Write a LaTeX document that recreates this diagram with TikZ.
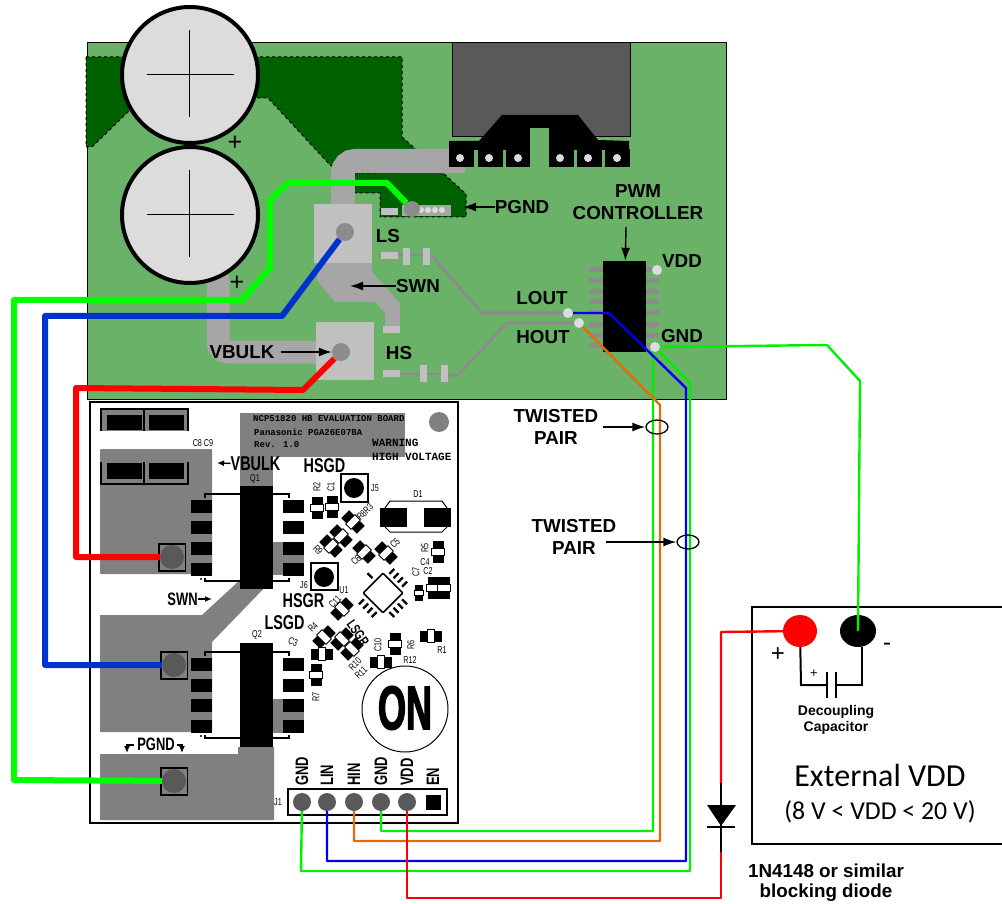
\documentclass[tikz,border=0pt]{standalone}
\usepackage{fontspec}
\usepackage{tikz}
\usetikzlibrary{shapes.geometric, arrows.meta}
\setmainfont{Liberation Sans}
\newfontfamily\silkfont[FakeStretch=0.72]{Liberation Sans}
\newfontfamily\logofont[FakeStretch=0.58, FakeBold=2]{Liberation Sans}
\newfontfamily\silkmono{Liberation Mono}
\newfontfamily\calfont{Carlito}
\definecolor{boardgreen}{HTML}{69B267}
\definecolor{copper}{HTML}{006100}
\definecolor{trace}{HTML}{A6A6A6}
\definecolor{padgray}{HTML}{C0C0C0}
\definecolor{silkgray}{HTML}{808080}
\definecolor{viagray}{HTML}{8C8C8C}
\definecolor{darkgray}{HTML}{595959}
\definecolor{dotgray}{HTML}{DCDCDC}
\definecolor{wirered}{HTML}{FF0000}
\definecolor{wireblue}{HTML}{0000F0}
\definecolor{cableblue}{HTML}{0033CC}
\definecolor{cablegreen}{HTML}{00FF00}
\definecolor{wiregreen}{HTML}{00F000}
\definecolor{wireorange}{HTML}{E36C0A}
\def\Fr(#1,#2,#3,#4)#5{\fill[#5] (#1,#2) rectangle (#3,#4);}
\tikzset{
	lbl/.style={font=\bfseries\fontsize{18.8}{18.8}\selectfont, inner sep=0pt},
	silk/.style={font=\silkfont\fontsize{10}{10}\selectfont, inner sep=0pt},
	silkbig/.style={font=\silkfont\bfseries\fontsize{20}{20}\selectfont, inner sep=0pt},
	silkmid/.style={font=\silkmono\bfseries\fontsize{9}{9}\selectfont, inner sep=0pt},
	via/.style={circle, fill=viagray, minimum size=18pt, inner sep=0pt},
	dot/.style={circle, fill=dotgray, minimum size=10pt, inner sep=0pt},
	pad/.style={circle, fill=darkgray, minimum size=24pt, inner sep=0pt},
	pin/.style={circle, fill=darkgray, minimum size=18pt, inner sep=0pt},
	cable/.style={line width=6pt, line join=round},
	wire/.style={line width=2.4pt, line join=round},
	arr/.style={-{Latex[length=13pt, width=9pt]}, line width=1.4pt},
	arrsmall/.style={-{Latex[length=7pt, width=6pt]}, line width=1.4pt},
	smd/.pic={
		\fill[black] (-5.5,-11) rectangle (5.5,-3.5);
		\fill[black] (-5.5,3.5) rectangle (5.5,11);
		\draw[line width=.8pt, fill=white] (-6.5,-3.8) rectangle (6.5,3.8);
	},
}
\begin{document}
\begin{tikzpicture}[x=1pt, y=-1pt]
	\useasboundingbox (0,0) rectangle (1002,904);

	\draw[fill=boardgreen, line width=1pt] (87,43) rectangle (726,399);
	\draw[fill=copper, dashed, line width=1pt] (86,57) -- (402,57) -- (402,137) -- (420,153) -- (340,170) -- (330,165) -- (268,98) -- (258,98) -- (190,70) -- (130,110) -- (92,147) -- (86,147) -- cycle;
	\draw[fill=copper, dashed, line width=1pt] (355,173) -- (442,172) -- (466,194) -- (466,217) -- (380,217) -- (380,193) -- (355,193) -- cycle;

	\draw[trace, line width=24pt, rounded corners=12pt] (343,210) -- (343,161) -- (465,161);
	\draw[trace, line width=23pt, rounded corners=10pt] (218,275) -- (218,352) -- (325,352);
	\fill[trace] (317,263) -- (372,263) -- (372,272) -- (400,303) -- (400,326) -- (385,326) -- (385,313) -- (375,302) -- (335,302) -- (317,280) -- cycle;
	\Fr(314,204,372,263){padgray}
	\Fr(316,322,374,380){padgray}
	\Fr(383,326,400,333){padgray}

	\draw[viagray, line width=2.5pt] (398,255) -- (423,255);
	\draw[viagray, line width=2.5pt] (399,374) -- (441,374);
	\draw[viagray, line width=3pt, line join=round] (431,255) -- (482,313) -- (568,313);
	\draw[viagray, line width=3pt, line join=round] (448,375) -- (458,375) -- (507,323) -- (580,323);
	\foreach \x/\y in {381/252, 383/370} {\Fr(\x,\y,\x+17,\y+7){padgray}}
	\foreach \x/\y in {403/248, 423/248, 420/365, 441/365} {\Fr(\x,\y,\x+7,\y+17){padgray}}

	\Fr(381,208,398,215){padgray}
	\Fr(402,205,451,216){trace}
	\foreach \x in {421,428,435,442} \fill[dotgray] (\x,210) circle [radius=3];

	\draw[fill=darkgray, line width=1pt] (452,43) rectangle (630,137);
	\fill[black] (449,141) -- (479,141) -- (502,115) -- (578,115) -- (598,140) -- (629,141) -- (629,150) -- (449,150) -- cycle;
	\foreach \x in {449,478,506,549,577,605} {\Fr(\x,149,\x+24.5,167){black}}
	\Fr(530,128,549,167){boardgreen}
	\foreach \x in {460,489,518,560,588,617} \fill[dotgray] (\x,158) circle [radius=4];

	\draw[fill=dotgray, line width=4pt] (190,75) circle [radius=68];
	\draw[fill=dotgray, line width=4pt] (190,215) circle [radius=68];
	\foreach \y in {75,215} {
		\draw[line width=1pt] (147,\y) -- (234,\y);
		\draw[line width=1pt] (189,\y-45) -- (189,\y+42);
	}
	\node[lbl, font=\fontsize{25}{25}\selectfont] (plusA) at (235,143) {+};
	\node[lbl, font=\fontsize{25}{25}\selectfont] (plusB) at (237,283) {+};

	\foreach \y in {270,281,292,302,313,324,335,345} {
		\Fr(589,\y-2.5,603,\y+2.5){viagray}
		\Fr(646,\y-2.5,659,\y+2.5){viagray}
	}
	\node[fill=black, inner sep=0pt, minimum width=43pt, minimum height=91pt] (pwm) at (624.5,306.5) {};

	\node[via] (viaLS) at (345,232) {};
	\node[via] (viaHS) at (341,352) {};
	\node[via, minimum size=16pt] (viaPG) at (412,209) {};
	\node[dot] (dotVDD) at (657,270) {};
	\node[dot] (dotLOUT) at (568,313) {};
	\node[dot] (dotHOUT) at (579,323) {};
	\node[dot] (dotGND) at (655,347) {};

	\node[lbl] (lPGND) at (522,207) {PGND};
	\node[lbl] (lPWM) at (638,191) {PWM};
	\node[lbl] (lCTRL) at (638,213) {CONTROLLER};
	\node[lbl] (lVDD) at (682,261) {VDD};
	\node[lbl] (lGND) at (682,336) {GND};
	\node[lbl] (lLOUT) at (542,298) {LOUT};
	\node[lbl] (lHOUT) at (543,337) {HOUT};
	\node[lbl] (lLS) at (388,236) {LS};
	\node[lbl] (lSWN) at (418,286) {SWN};
	\node[lbl] (lHS) at (399,353) {HS};
	\node[lbl] (lVBULK) at (242,352) {VBULK};
	\draw[arr] (lPGND) -- (463,207);
	\draw[arr] (626,227) -- (pwm);
	\draw[arr] (lSWN) -- (350,286);
	\draw[arr, shorten <=6pt] (lVBULK) -- (viaHS);

	\draw[fill=white, line width=1.5pt] (90,402) rectangle (458,823);
	\Fr(240,413,405,457){silkgray}
	\Fr(240,457,273,487){silkgray}
	\fill[silkgray, rounded corners=1pt] (100,449) rectangle (212,574);
	\Fr(273,542,304,575){silkgray}
	\fill[silkgray] (100,615) -- (202,615) -- (240,580) -- (272,580) -- (212,642) -- (212,732) -- (100,732) -- cycle;
	\Fr(273,699,304,733){silkgray}
	\fill[silkgray] (100,754) -- (238,754) -- (238,747) -- (274,747) -- (274,820) -- (100,820) -- cycle;

	\Fr(240,486,273,589){black}
	\Fr(240,643,273,747){black}
	\foreach \y in {500,521,542,563,658,679,699,720} {
		\Fr(191,\y,212,\y+12.5){black}
		\Fr(283,\y,304,\y+12.5){black}
	}
	\foreach \a/\b in {494/581, 652/738} {
		\draw[line width=1.2pt] (205,\a+4) -- (205,\a) -- (240,\a);
		\draw[line width=1.2pt] (273,\a) -- (289,\a) -- (289,\a+4);
		\draw[line width=1.2pt] (205,\b-3) -- (205,\b) -- (240,\b);
		\draw[line width=1.2pt] (273,\b) -- (289,\b) -- (289,\b-3);
		\fill[black] (201,\b-2) circle [radius=1.2];
	}

	\Fr(101,409,188,431){silkgray}
	\foreach \x in {107,149} {
		\Fr(\x,415,\x+35,430){black}
		\Fr(\x,463,\x+35,479){black}
	}
	\draw[line width=1.2pt] (101,431) -- (101,409) -- (188,409) -- (188,431);
	\draw[line width=1.2pt] (144,409) -- (144,431);
	\draw[line width=1.2pt] (101,462) -- (101,484) -- (188,484) -- (188,462);
	\draw[line width=1.2pt] (144,462) -- (144,484);

	\foreach \x/\y in {159/544, 161/652, 161/768} \draw[line width=1.3pt, fill=silkgray] (\x,\y) rectangle (\x+26.5,\y+27);
	\node[pad] (tpBulk) at (172,557) {};
	\node[pad] (tpSwn) at (174,665) {};
	\node[pad] (tpPgnd) at (174,781) {};

	\fill[silkgray] (439,422) circle [radius=10];
	\draw[line width=1.3pt] (341,474) rectangle (368,502);
	\fill[black] (354,488) circle [radius=10];
	\draw[line width=1.3pt] (311,563) rectangle (338,590);
	\fill[black] (324,577) circle [radius=10];

	\Fr(380,508,407,527){black}
	\Fr(424,508,451,527){black}
	\draw[line width=1pt] (385,508) -- (390,501) -- (442,501) -- (447,508);
	\draw[line width=1pt] (385,527) -- (390,532) -- (442,532) -- (447,527);

	\foreach \x/\y/\r in {317/508/0, 332/507/0, 353/522/45, 341/536/45, 331/546/45, 364/552/45, 386/553/45, 342/609/-45, 324/637/-45, 342/639/-45, 352/649/-45, 322/654/90, 316/675/0, 381/662/90, 395/644/0, 431/636/90, 438/552/0, 433/588/0, 444/588/0}
		\pic[rotate=\r] at (\x,\y) {smd};
	\pic[rotate=0, scale=.7] at (419,593) {smd};

	\begin{scope}[shift={(383,593)}, rotate=45]
		\draw[line width=1.6pt, fill=white, rounded corners=1pt] (-14,-14) rectangle (14,14);
		\foreach \s in {-9,-3,3,9} {
			\draw[line width=2.2pt] (\s,18) -- (\s,25);
			\draw[line width=2.2pt] (18,\s) -- (25,\s);
			\draw[line width=2.2pt] (-18,\s) -- (-25,\s);
		}
		\draw[line width=2.2pt] (3,-18) -- (3,-25);
	\end{scope}

	\draw[line width=1pt] (405,709) circle [radius=43];
	\node[inner sep=0pt, font=\logofont\bfseries\fontsize{62}{62}\selectfont] (logoON) at (405,708) {ON};

	\node[silkmid, anchor=west] (lEval) at (253,419) {NCP51820 HB EVALUATION BOARD};
	\node[silkmid, anchor=west] (lPana) at (254,432) {Panasonic PGA26E07BA};
	\node[silkmid, anchor=west] (lRev) at (254,445) {Rev. 1.0};
	\node[inner sep=0pt, anchor=west, font=\silkmono\bfseries\fontsize{11}{11}\selectfont] (lWarn) at (372,443) {WARNING};
	\node[inner sep=0pt, anchor=west, font=\silkmono\bfseries\fontsize{11}{11}\selectfont] (lHigh) at (372,457) {HIGH VOLTAGE};

	\node[silkbig] (sBulk) at (255.5,464) {VBULK};
	\node[silkbig] (sHSGD) at (324.5,466) {HSGD};
	\node[silkbig] (sHSGR) at (303.5,601) {HSGR};
	\node[silkbig] (sLSGD) at (284.5,623) {LSGD};
	\node[silkbig, font=\silkfont\bfseries\fontsize{18}{18}\selectfont] (sSWN) at (182.5,599) {SWN};
	\node[silkbig, font=\silkfont\bfseries\fontsize{18}{18}\selectfont] (sPGND) at (156,744) {PGND};
	\node[silk, font=\silkfont\bfseries\fontsize{14}{14}\selectfont, rotate=-55] (sLSGR) at (358,633) {LSGR};
	\draw[arrsmall] (sBulk) -- (217,463);
	\draw[arrsmall] (sSWN) -- (212,599);
	\draw[arrsmall] (134,745) -- (127,745) -- (127,753);
	\draw[arrsmall] (177,745) -- (182,745) -- (182,753);

	\foreach \t/\x/\y/\r in {C8 C9/203/443/0, Q1/255/479/0, Q2/257/635/0, J1/278/802/0, J5/375/488/0, R2/317/487/90, C1/331/487/90, D1/418/494/0, R5/425/548/90, C4/425/562/0, C7/416/572/90, C2/428/571/0, C5/395/543/45, R9/318/550/-45, C6/356/560/45, R8R3/365/512/45, J6/304/585/0, U1/344/590/0, C11/335/602/45, R4/313/627/45, C3/293/642/-20, R7/316/697/90, R10/355/664/45, R11/361/673/45, C10/378/645/90, R6/411/645/90, R1/442/650/0, R12/410/660/0}
		\node[silk, rotate=\r] (s\t) at (\x,\y) {\t};

	\node[pin] (pinGndA) at (302,802) {};
	\node[pin] (pinLin) at (327,802) {};
	\node[pin] (pinHin) at (354,802) {};
	\node[pin] (pinGndB) at (381,802) {};
	\node[pin] (pinVdd) at (407,802) {};
	\node[fill=black, inner sep=0pt, minimum size=15pt] (pinEn) at (433,802) {};
	\draw[line width=1.5pt] (288,789) rectangle (447,815);
	\foreach \t/\x in {GND/302, LIN/327, HIN/354, GND/381, VDD/407, EN/433}
		\node[inner sep=0pt, anchor=west, rotate=90, font=\silkfont\bfseries\fontsize{18}{18}\selectfont] (s\t\x) at (\x,786) {\t};

	\draw[cable, color=cablegreen] (viaPG) -- (387,183) -- (288,183) -- (270,200) -- (270,268) -- (242,300) -- (14,300) -- (14,780) -- (tpPgnd);
	\draw[cable, color=cableblue] (viaLS) -- (282,316) -- (45,316) -- (45,665) -- (tpSwn);
	\draw[cable, color=wirered] (viaHS) -- (303,390) -- (76,388) -- (76,557) -- (tpBulk);

	\draw[wire, color=wiregreen] (dotGND) -- (690,383) -- (690,871) -- (301,871) -- (pinGndA);
	\draw[wire, color=wiregreen] (dotGND) -- (653,352) -- (653,831) -- (381,831) -- (pinGndB);
	\draw[wire, color=wireorange] (dotHOUT) -- (660,405) -- (660,841) -- (354,841) -- (pinHin);
	\draw[wire, color=wireblue] (dotLOUT) -- (609,313) -- (686,388) -- (686,861) -- (327,861) -- (pinLin);

	\draw[line width=2pt] (1002,607) -- (752,607) -- (752,844) -- (1002,844);
	\node[ellipse, fill=wirered, minimum width=34pt, minimum height=32pt, inner sep=0pt] (termP) at (800,631) {};
	\node[ellipse, fill=black, minimum width=36pt, minimum height=32pt, inner sep=0pt] (termN) at (858,631) {};
	\draw[wire, color=wiregreen] (dotGND) -- (827,345) -- (860,381) -- (termN.center);
	\draw[line width=2pt] (termP) -- (801,685) -- (827,685);
	\draw[line width=2pt] (827,672) -- (827,698);
	\draw[line width=2pt] (836,672) -- (836,698);
	\draw[line width=2pt] (836,685) -- (862,685) -- (862,647);
	\node[inner sep=0pt, font=\fontsize{24}{24}\selectfont] (plusP) at (778,655) {+};
	\node[inner sep=0pt, font=\fontsize{24}{24}\selectfont] (minusN) at (887,647) {-};
	\node[inner sep=0pt, font=\fontsize{13}{13}\selectfont] (plusC) at (814,674) {+};
	\node[lbl, font=\bfseries\fontsize{14}{14}\selectfont] (lDec) at (836,712) {Decoupling};
	\node[lbl, font=\bfseries\fontsize{14}{14}\selectfont] (lCap) at (836,728) {Capacitor};
	\node[inner sep=0pt, font=\calfont\fontsize{32}{32}\selectfont] (lExt) at (880,776) {External VDD};
	\node[inner sep=0pt, font=\calfont\fontsize{25.8}{25.8}\selectfont] (lRange) at (880,812) {(8 V < VDD < 20 V)};

	\coordinate (dioA) at (721,783);
	\coordinate (dioK) at (721,852);
	\draw[wire, color=wirered] (termP) -- (721,632) -- (dioA);
	\draw[wire, color=wirered] (pinVdd) -- (407,898) -- (721,898) -- (dioK);
	\draw[line width=2.4pt] (dioA) -- (dioK);
	\fill[black] (707,805) -- (736,805) -- (721,826) -- cycle;
	\draw[line width=2pt] (707,827) -- (735,827);
	\node[lbl] (lDio) at (826,871) {1N4148 or similar};
	\node[lbl] (lBlock) at (826,893) {blocking diode};

	\node[lbl] (lTwA) at (556,416) {TWISTED};
	\node[lbl] (lPairA) at (556,438) {PAIR};
	\node[lbl] (lTwB) at (574,526) {TWISTED};
	\node[lbl] (lPairB) at (574,548) {PAIR};
	\node[ellipse, draw, line width=1.3pt, minimum width=22pt, minimum height=14pt, inner sep=0pt] (twistA) at (657,427) {};
	\node[ellipse, draw, line width=1.3pt, minimum width=22pt, minimum height=14pt, inner sep=0pt] (twistB) at (688,542) {};
	\draw[arr] (603,427) -- (twistA);
	\draw[arr] (606,542) -- (twistB);
\end{tikzpicture}
\end{document}
